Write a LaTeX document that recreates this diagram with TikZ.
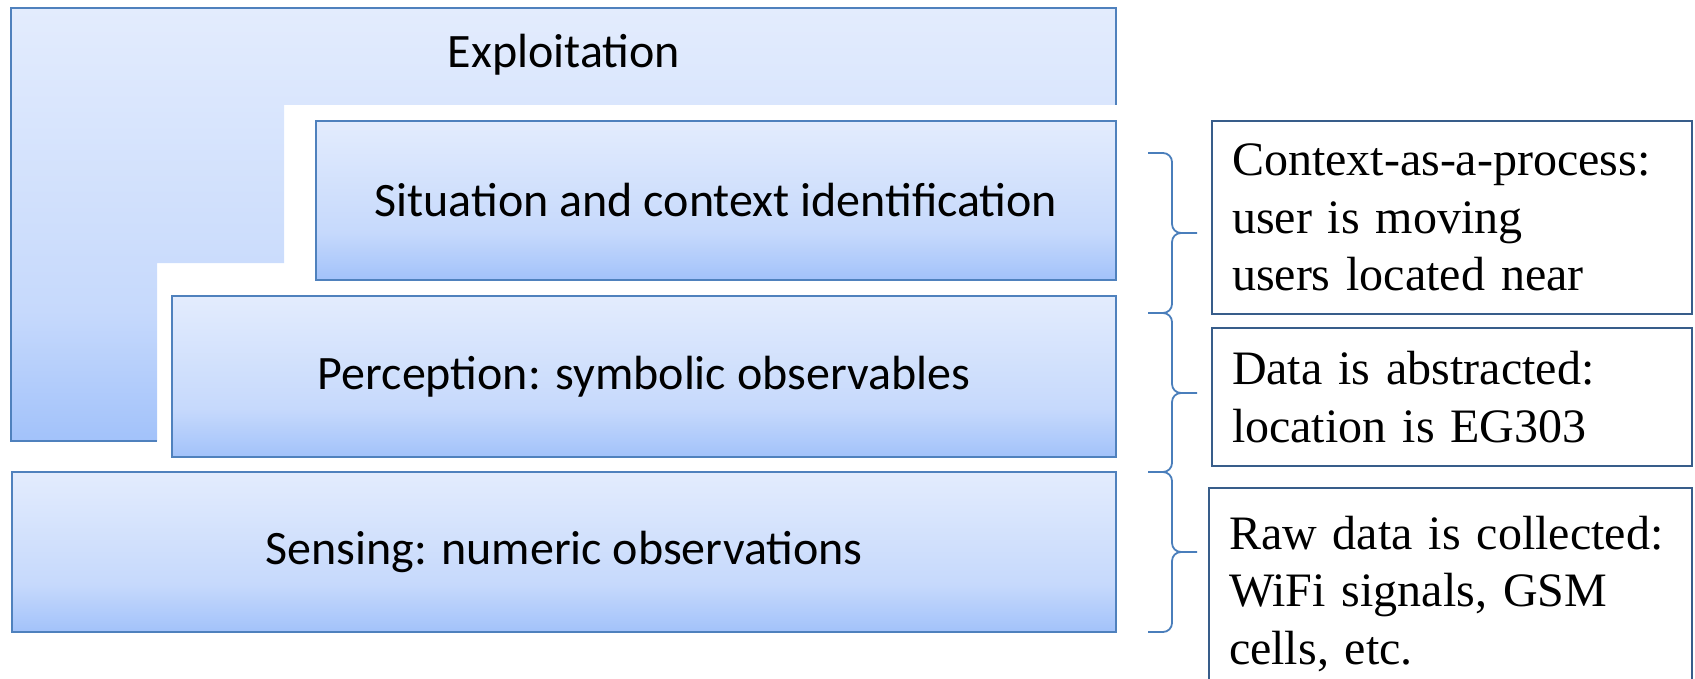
\documentclass[tikz,border=0pt]{standalone}
\usepackage{fontspec}
\newfontfamily\layerfont{Carlito}
\newfontfamily\notefont{Liberation Serif}
\definecolor{layerTop}{HTML}{E3ECFD}
\definecolor{layerMid}{HTML}{C6D9FC}
\definecolor{layerBot}{HTML}{A2C2FA}
\definecolor{layerLine}{HTML}{4F81BD}
\definecolor{noteLine}{HTML}{385D8A}
\definecolor{braceLine}{HTML}{4A7EBB}
\pgfdeclareverticalshading{layerfill}{100bp}{color(0bp)=(layerBot); color(25bp)=(layerBot); color(40bp)=(layerMid); color(75bp)=(layerTop); color(100bp)=(layerTop)}

\begin{document}
\begin{tikzpicture}[
        x=0.5pt, y=-0.5pt,
        layer/.style={draw=layerLine, line width=1pt, shade, shading=layerfill, inner sep=0pt,
                      font=\layerfont\fontsize{24}{29}\selectfont},
        note/.style={draw=noteLine, line width=0.9pt, align=left, inner xsep=10pt, text width=220pt,
                     font=\notefont\fontsize{24}{28.75}\selectfont},
        levelbrace/.style={draw=braceLine, line width=0.9pt, rounded corners=4.5pt}
      ]
        \useasboundingbox (0,0) rectangle (1695,679);
        \shade[shading=layerfill] (11,8) -- (1116,8) -- (1116,105) -- (284,105) -- (284,263) -- (157,263) -- (157,441) -- (11,441) -- cycle;
        \draw[layerLine, line width=1pt] (157,441) -- (11,441) -- (11,8) -- (1116,8) -- (1116,105);
        \node[font=\layerfont\fontsize{24}{29}\selectfont] (exploit) at (564,55) {Exploitation};
        \node[layer, minimum width=400pt, minimum height=79.5pt] (situation) at (716,200.5) {Situation and context identification};
        \node[layer, minimum width=472pt, minimum height=80.5pt] (perception) at (644,376.5) {Perception: symbolic observables};
        \node[layer, minimum width=552pt, minimum height=80pt] (sensing) at (564,552) {Sensing: numeric observations};
        \foreach \ya/\ym/\yb in {153/233/313, 313/393/472, 472/552/632}
          \draw[levelbrace] (1148,\ya) -| (1172,\ym) -- (1197,\ym)
                            (1148,\yb) -| (1172,\ym) -- (1197,\ym);
        \node[note, minimum height=96.5pt] (process) at (1452,217.5) {Context-as-a-process:\\user is moving\\users located near};
        \node[note, minimum height=69pt] (abstract) at (1452,397) {Data is abstracted:\\location is EG303};
        \node[note, minimum height=106pt, text width=221.5pt] (raw) at (1450.5,594) {Raw data is collected:\\WiFi signals, GSM\\cells, etc.};
      \end{tikzpicture}
\end{document}
